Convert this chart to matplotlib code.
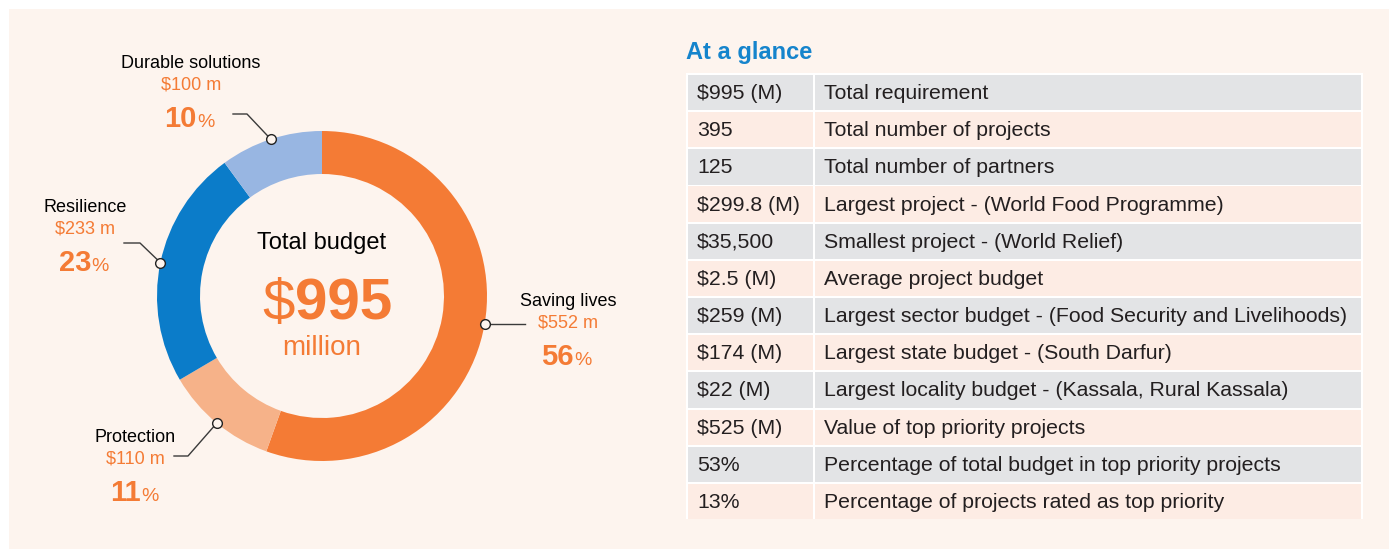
import matplotlib
matplotlib.use("Agg")
import matplotlib.pyplot as plt
from matplotlib.patches import Rectangle
import numpy as np

plt.rcParams["font.family"] = ["Liberation Sans", "DejaVu Sans"]

W, H = 1389, 549

# donut data
CATEGORIES = ["Saving lives", "Protection", "Resilience", "Durable solutions"]
AMOUNTS = [552, 110, 233, 100]  # $ million
AMOUNT_LABELS = ["$552 m", "$110 m", "$233 m", "$100 m"]
PERCENTS = ["56", "11", "23", "10"]
TOTAL = "995"

# "At a glance" table
GLANCE_VALUES = [
    "$995 (M)", "395", "125", "$299.8 (M)", "$35,500", "$2.5 (M)",
    "$259 (M)", "$174 (M)", "$22 (M)", "$525 (M)", "53%", "13%",
]
GLANCE_TEXT = [
    "Total requirement",
    "Total number of projects",
    "Total number of partners",
    "Largest project - (World Food Programme)",
    "Smallest project - (World Relief)",
    "Average project budget",
    "Largest sector budget - (Food Security and Livelihoods)",
    "Largest state budget - (South Darfur)",
    "Largest locality budget - (Kassala, Rural Kassala)",
    "Value of top priority projects",
    "Percentage of total budget in top priority projects",
    "Percentage of projects rated as top priority",
]

COLORS = ["#F47B35", "#F6B289", "#0B7CC9", "#98B6E2"]
ORANGE = "#F47B35"
BG = "#FDF4EE"
ROW_COLORS = ["#E3E4E6", "#FDECE4"]
TITLE_BLUE = "#1584CC"
TEXT = "#231F20"

# label layout (pixel coords, y measured from top)
LABEL_X = [568, 135, 85, 191]
LABEL_Y = [301, 437, 207, 63]
LEADER_PTS = [
    [(525, None)],
    [(188, 456), (174, 456)],
    [(140, 243), (124, 243)],
    [(247, 114), (233, 114)],
]


def Y(y):
    return H - y


fig = plt.figure(figsize=(W / 100, H / 100), dpi=100)
fig.patch.set_facecolor("white")
ax = fig.add_axes([0, 0, 1, 1])
ax.set_xlim(0, W)
ax.set_ylim(0, H)
ax.axis("off")

ax.add_patch(Rectangle((9, 0), W - 9, H - 9, facecolor=BG, edgecolor="none", zorder=0))

# donut
cx, cy, r = 322, Y(296), 165
wedges, _ = ax.pie(
    AMOUNTS,
    colors=COLORS,
    startangle=90,
    counterclock=False,
    radius=r,
    center=(cx, cy),
    wedgeprops=dict(width=43, edgecolor="none", zorder=1),
)
ax.set_xlim(0, W)
ax.set_ylim(0, H)
ax.set_aspect("equal")

ax.text(cx, Y(243), "Total budget", ha="center", va="center", fontsize=17, color="black")
ax.text(cx - 27, Y(305), "$", ha="right", va="center", fontsize=42, color=ORANGE)
ax.text(cx - 27, Y(305), TOTAL, ha="left", va="center", fontsize=42,
        fontweight="bold", color=ORANGE)
ax.text(cx, Y(348), "million", ha="center", va="center", fontsize=20, color=ORANGE)

for i, w in enumerate(wedges):
    mid = np.deg2rad((w.theta1 + w.theta2) / 2)
    mx, my = cx + r * np.cos(mid), cy + r * np.sin(mid)
    xs, ys = [mx], [my]
    for px, py in LEADER_PTS[i]:
        xs.append(px)
        ys.append(my if py is None else Y(py))
    ax.plot(xs, ys, color="#3a3a3a", lw=1, zorder=3)
    ax.plot(mx, my, "o", ms=7, mfc=BG, mec="#222222", mew=1, zorder=4)

    lx, ly = LABEL_X[i], LABEL_Y[i]
    ax.text(lx, Y(ly), CATEGORIES[i], ha="center", va="center", fontsize=13, color="black")
    ax.text(lx, Y(ly + 22), AMOUNT_LABELS[i], ha="center", va="center", fontsize=13, color=ORANGE)
    ax.text(lx + 6, Y(ly + 64), PERCENTS[i], ha="right", va="baseline", fontsize=21,
            fontweight="bold", color=ORANGE)
    ax.text(lx + 6, Y(ly + 64), "%", ha="left", va="baseline", fontsize=14, color=ORANGE)

# table
ax.text(686, Y(53), "At a glance", ha="left", va="center", fontsize=17,
        fontweight="bold", color=TITLE_BLUE)
top, bottom = 73, 519
left, split, right = 686, 813, 1363
pitch = (bottom - top) / len(GLANCE_VALUES)
ax.add_patch(Rectangle((left, Y(bottom)), right - left, bottom - top,
                       facecolor="white", edgecolor="none", zorder=1))
for i, (val, txt) in enumerate(zip(GLANCE_VALUES, GLANCE_TEXT)):
    y0 = top + i * pitch + 2
    h = pitch - 2
    c = ROW_COLORS[i % 2]
    ax.add_patch(Rectangle((left + 2, Y(y0 + h)), split - left - 2, h,
                           facecolor=c, edgecolor="none", zorder=2))
    ax.add_patch(Rectangle((split + 2, Y(y0 + h)), right - split - 4, h,
                           facecolor=c, edgecolor="none", zorder=2))
    yc = Y(y0 + h / 2 + 1)
    ax.text(697, yc, val, ha="left", va="center", fontsize=15.3, color=TEXT, zorder=3)
    ax.text(824, yc, txt, ha="left", va="center", fontsize=15.3, color=TEXT, zorder=3)

fig.savefig("out.png", dpi=100)
